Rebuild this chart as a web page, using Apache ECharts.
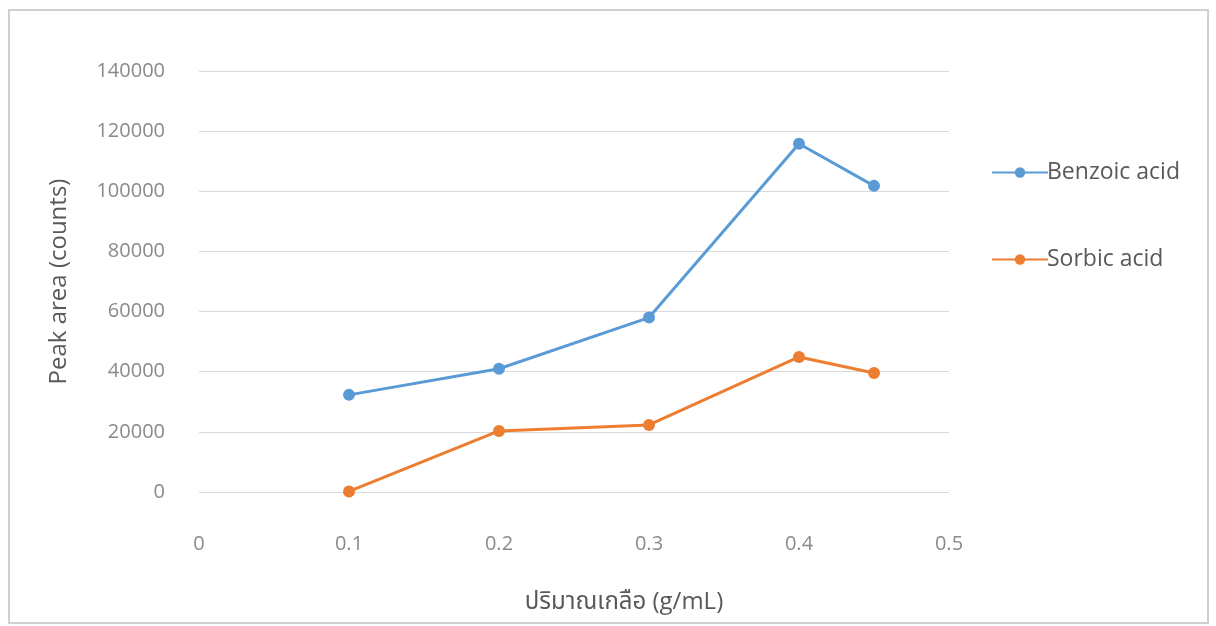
<!DOCTYPE html>
<html>
<head>
<meta charset="utf-8">
<script src="https://cdn.jsdelivr.net/npm/echarts@6/dist/echarts.min.js"></script>
<style>
html,body{margin:0;padding:0;background:#fff;}
#chart{width:1216px;height:626px;}
</style>
</head>
<body>
<div id="chart"></div>
<script>
var xValues = [0.1, 0.2, 0.3, 0.4, 0.45];
var benzoic = [32300, 41000, 58000, 115800, 101800];
var sorbic = [200, 20300, 22300, 44900, 39600];
var seriesNames = ['Benzoic acid', 'Sorbic acid'];
var xAxisTitle = 'ปริมาณเกลือ (g/mL)';
var yAxisTitle = 'Peak area (counts)';

function pairs(xs, ys){ return xs.map(function(x,i){ return [x, ys[i]]; }); }

var chart = echarts.init(document.getElementById('chart'));
var font = '"Open Sans", "Noto Sans", "Noto Sans Thai", sans-serif';
chart.setOption({
  animation: false,
  textStyle: { fontFamily: font },
  graphic: [{
    type: 'rect', left: 8, top: 9, z: -10,
    shape: { width: 1199, height: 613 },
    style: { fill: '#fff', stroke: '#d0d0d0', lineWidth: 2 }
  }],
  grid: { left: 199, right: 267, top: 71, bottom: 134 },
  xAxis: {
    type: 'value', min: 0, max: 0.5, interval: 0.1,
    axisLine: { show: false }, axisTick: { show: false },
    splitLine: { show: false },
    axisLabel: { color: '#8a8a8a', fontSize: 20, margin: 42, fontFamily: font },
    name: xAxisTitle, nameLocation: 'middle', nameGap: 98,
    nameTextStyle: { color: '#595959', fontSize: 24, fontFamily: font, padding: [0, 0, 0, 100] }
  },
  yAxis: {
    type: 'value', min: 0, max: 140000, interval: 20000,
    axisLine: { show: false }, axisTick: { show: false },
    splitLine: { lineStyle: { color: '#d9d9d9', width: 1 } },
    axisLabel: { color: '#8a8a8a', fontSize: 20, margin: 34, fontFamily: font,
      formatter: function(v){ return String(v); } },
    name: yAxisTitle, nameLocation: 'middle', nameGap: 128,
    nameTextStyle: { color: '#595959', fontSize: 24, fontFamily: font }
  },
  legend: {
    orient: 'vertical', left: 986, top: 156, itemGap: 64,
    itemWidth: 56, itemHeight: 13,
    textStyle: { color: '#595959', fontSize: 23, fontFamily: font, padding: [0,0,0,-6] },
    data: seriesNames
  },
  series: [
    { name: seriesNames[0], type: 'line', data: pairs(xValues, benzoic),
      symbol: 'circle', symbolSize: 12,
      lineStyle: { color: '#5B9BD5', width: 3 }, itemStyle: { color: '#5B9BD5' } },
    { name: seriesNames[1], type: 'line', data: pairs(xValues, sorbic),
      symbol: 'circle', symbolSize: 12,
      lineStyle: { color: '#ED7D31', width: 3 }, itemStyle: { color: '#ED7D31' } }
  ]
});
</script>
</body>
</html>
